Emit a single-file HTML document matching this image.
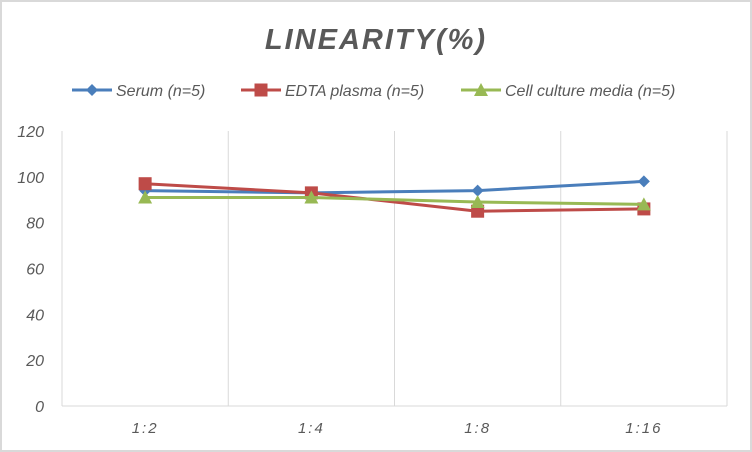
<!DOCTYPE html>
<html><head><meta charset="utf-8"><style>
body{margin:0;background:#fff;}
svg{display:block;font-family:"Liberation Sans",sans-serif;}
</style></head><body>
<svg id="chart" width="752" height="452">
<rect x="1" y="1" width="750" height="450" fill="#fff" stroke="#d9d9d9" stroke-width="2"/>
<text x="376" y="49" text-anchor="middle" font-size="29" font-weight="bold" font-style="italic" fill="#595959" letter-spacing="2">LINEARITY(%)</text>
<g id="legend"></g>
<g id="grid"></g>
<g id="axes"></g>
<g id="series"></g>
</svg>
<script>
const categories=["1:2","1:4","1:8","1:16"];
const serum=[94,93,94,98];
const edta=[97,93,85,86];
const cell=[91,91,89,88];
const yTicks=[0,20,40,60,80,100,120];
const seriesNames=["Serum (n=5)","EDTA plasma (n=5)","Cell culture media (n=5)"];

const NS="http://www.w3.org/2000/svg";
const L=62,R=727,T=131,B=406,yMax=120;
const bw=(R-L)/categories.length;
const xS=i=>L+bw*(i+0.5);
const yS=v=>B-(v/yMax)*(B-T);
function mk(tag,attrs,parent){const e=document.createElementNS(NS,tag);for(const k in attrs)e.setAttribute(k,attrs[k]);parent.appendChild(e);return e;}
const grid=document.getElementById('grid'),axes=document.getElementById('axes'),ser=document.getElementById('series'),leg=document.getElementById('legend');
for(let i=0;i<=categories.length;i++){
 const l=mk('line',{x1:L+bw*i,x2:L+bw*i,y1:T,y2:B,stroke:'#d9d9d9','stroke-width':1},grid);
 
 
}
const ax=mk('line',{x1:L,x2:R,y1:B,y2:B,stroke:'#d9d9d9','stroke-width':1},axes);


yTicks.forEach(v=>{
 const t=mk('text',{x:44,y:yS(v)+6,'text-anchor':'end','font-size':16,'font-style':'italic',fill:'#595959'},axes);
 t.textContent=v;
 
 
});
categories.forEach((c,i)=>{
 const t=mk('text',{x:xS(i),y:433,'text-anchor':'middle','font-size':15,'font-style':'italic',fill:'#595959','letter-spacing':'2'},axes);
 t.textContent=c;
 
 
});
const colors=['#4a7ebb','#be4b48','#98b954'];
const data=[serum,edta,cell];
function marker(k,x,y,g){
 let e;
 if(k===0)e=mk('polygon',{points:`${x},${y-6} ${x+6},${y} ${x},${y+6} ${x-6},${y}`,fill:colors[k]},g);
 else if(k===1)e=mk('rect',{x:x-6.5,y:y-6.5,width:13,height:13,fill:colors[k]},g);
 else e=mk('polygon',{points:`${x},${y-7} ${x+7},${y+6} ${x-7},${y+6}`,fill:colors[k]},g);
 return e;
}
data.forEach((d,k)=>{
 const g=mk('g',{},ser);
 
 
 const pl=mk('polyline',{points:d.map((v,i)=>xS(i)+','+yS(v)).join(' '),fill:'none',stroke:colors[k],'stroke-width':3,'stroke-linejoin':'round'},g);
 
 
 d.forEach((v,i)=>{
  const m=marker(k,xS(i),yS(v),g);
  
  
 });
});
const lx=[72,241,461];
seriesNames.forEach((n,k)=>{
 const g=mk('g',{},leg);
 
 
 mk('line',{x1:lx[k],x2:lx[k]+40,y1:90,y2:90,stroke:colors[k],'stroke-width':3},g);
 marker(k,lx[k]+20,90,g);
 const t=mk('text',{x:lx[k]+44,y:96,'font-size':16,'font-style':'italic',fill:'#595959'},g);
 t.textContent=n;
});
</script>
</body></html>
